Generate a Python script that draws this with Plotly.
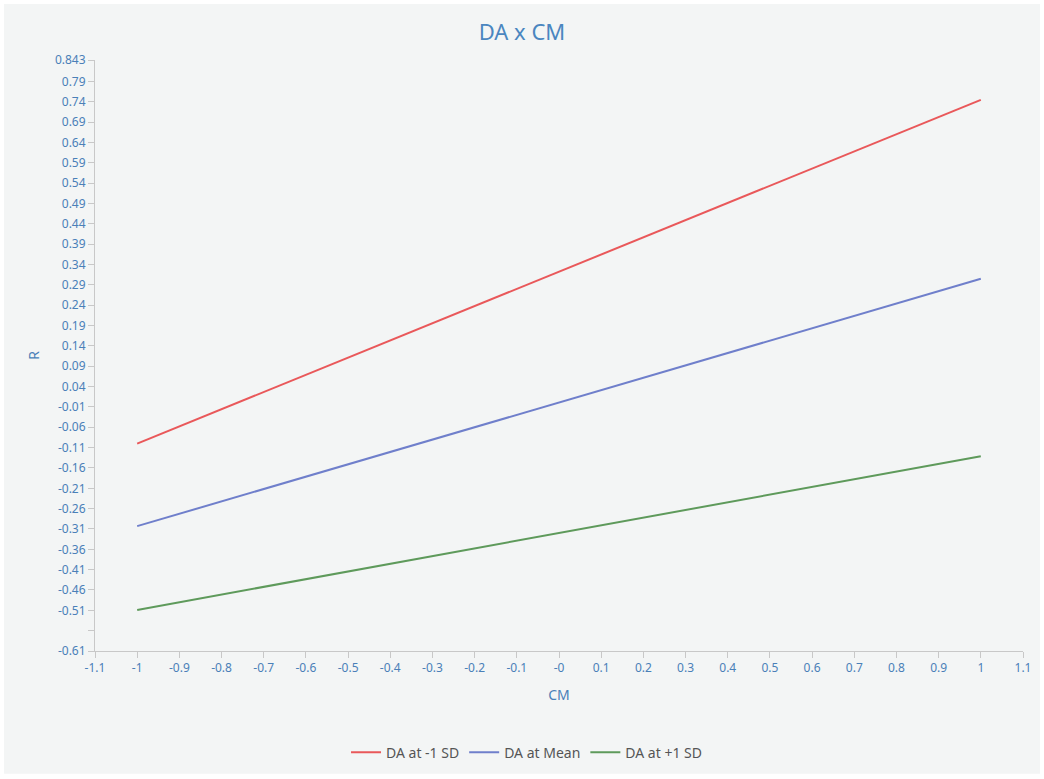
import plotly.graph_objects as go

cm = [-1, 1]
da_minus = [-0.10, 0.745]
da_mean = [-0.303, 0.305]
da_plus = [-0.509, -0.131]

series_names = ["DA at -1 SD", "DA at Mean", "DA at +1 SD"]
series_vals = [da_minus, da_mean, da_plus]
colors = ["#e9585a", "#6f7fcb", "#5e9a5b"]

x_ticks = [-1.1, -1, -0.9, -0.8, -0.7, -0.6, -0.5, -0.4, -0.3, -0.2, -0.1, 0,
           0.1, 0.2, 0.3, 0.4, 0.5, 0.6, 0.7, 0.8, 0.9, 1, 1.1]
x_labels = ["-1.1", "-1", "-0.9", "-0.8", "-0.7", "-0.6", "-0.5", "-0.4", "-0.3", "-0.2",
            "-0.1", "-0", "0.1", "0.2", "0.3", "0.4", "0.5", "0.6", "0.7", "0.8", "0.9", "1", "1.1"]
y_ticks = [-0.61, -0.56, -0.51, -0.46, -0.41, -0.36, -0.31, -0.26, -0.21, -0.16, -0.11,
           -0.06, -0.01, 0.04, 0.09, 0.14, 0.19, 0.24, 0.29, 0.34, 0.39, 0.44, 0.49,
           0.54, 0.59, 0.64, 0.69, 0.74, 0.79, 0.843]
y_labels = ["-0.61", "", "-0.51", "-0.46", "-0.41", "-0.36", "-0.31", "-0.26", "-0.21",
            "-0.16", "-0.11", "-0.06", "-0.01", "0.04", "0.09", "0.14", "0.19", "0.24",
            "0.29", "0.34", "0.39", "0.44", "0.49", "0.54", "0.59", "0.64", "0.69",
            "0.74", "0.79", "0.843"]

bg = "#f3f5f5"
tick_color = "#4a80b8"

fig = go.Figure()
for name, vals, c in zip(series_names, series_vals, colors):
    fig.add_trace(go.Scatter(x=cm, y=vals, mode="lines", name=name,
                             line=dict(color=c, width=2)))

axis_common = dict(showgrid=False, zeroline=False, showline=True, linecolor="#c8c8c8",
                   linewidth=1, ticks="outside", tickcolor="#c8c8c8", ticklen=6,
                   tickfont=dict(color=tick_color, size=12))

fig.update_layout(
    width=1044, height=779,
    margin=dict(l=95, r=21, t=60, b=127),
    paper_bgcolor="white", plot_bgcolor=bg,
    font=dict(family="Noto Sans, Open Sans, sans-serif", color=tick_color),
    title=dict(text="DA x CM", x=0.5, xanchor="center", y=0.958, yanchor="middle",
               font=dict(size=22, color="#4a86c0")),
    xaxis=dict(range=[-1.1, 1.1], tickvals=x_ticks, ticktext=x_labels,
               title=dict(text="CM", font=dict(size=14, color=tick_color), standoff=14),
               **axis_common),
    yaxis=dict(range=[-0.61, 0.843], tickvals=y_ticks, ticktext=y_labels,
               title=dict(text="R", font=dict(size=14, color=tick_color), standoff=12),
               **axis_common),
    legend=dict(orientation="h", x=0.465, xanchor="center", y=-0.17, yanchor="middle",
                font=dict(size=14, color="#555555"), bgcolor="rgba(0,0,0,0)"),
    shapes=[dict(type="rect", xref="paper", yref="paper", x0=-0.098, x1=1.0183,
                 y0=-0.2078, y1=1.0946, fillcolor=bg, line=dict(width=0), layer="below")],
)

fig.write_html("out.html")
